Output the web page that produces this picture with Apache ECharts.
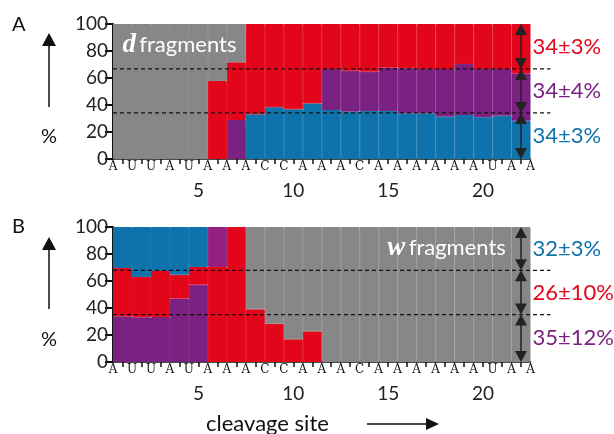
<!DOCTYPE html>
<html><head><meta charset="utf-8">
<script src="https://cdn.jsdelivr.net/npm/echarts@6/dist/echarts.min.js"></script>
<style>html,body{margin:0;padding:0;background:#fff}#c{width:614px;height:434px}</style>
</head><body><div id="c"></div>
<script>
// ---------- data ----------
const sites = ['1','2','3','4','5','6','7','8','9','10','11','12','13','14','15','16','17','18','19','20','21','22'];
const nucleotides = ['A','U','U','A','U','A','A','A','C','C','A','A','A','C','A','A','A','A','A','A','U','A','A'];

// Panel A (d fragments), stacked bottom -> top: blue, purple, red, gray
const aBlue   = [0,0,0,0,0,0,0,33.1,38.3,36.8,41.2,36.3,35.1,35.6,35.6,33.8,33.8,31.4,32.6,30.9,32.1,28.4];
const aPurple = [0,0,0,0,0,0,28.9,0,0,0,0,30.4,30.3,29.1,32.1,33.4,32.9,35.3,37.8,35.8,34.6,35.0];
const aRed    = [0,0,0,0,0,57.8,42.7,66.9,61.7,63.2,58.8,33.3,34.6,35.3,32.3,32.8,33.3,33.3,29.6,33.3,33.3,36.6];
const aGray   = [100,100,100,100,100,42.2,28.4,0,0,0,0,0,0,0,0,0,0,0,0,0,0,0];
const aMeans  = [34.1, 66.7];           // dashed lines
const aLabels = ['34±3%','34±4%','34±3%']; // top, middle, bottom

// Panel B (w fragments), stacked bottom -> top: purple, red, purple(top), blue, gray
const bPurple  = [33.8,33.1,33.3,47.0,57.3,0,0,0,0,0,0,0,0,0,0,0,0,0,0,0,0,0];
const bRed     = [35.8,29.9,34.1,17.7,13.1,70.4,100,39.0,28.4,16.8,22.7,0,0,0,0,0,0,0,0,0,0,0];
const bPurple2 = [0,0,0,0,0,29.6,0,0,0,0,0,0,0,0,0,0,0,0,0,0,0,0];
const bBlue    = [30.4,37.0,32.6,35.3,29.6,0,0,0,0,0,0,0,0,0,0,0,0,0,0,0,0,0];
const bGray    = [0,0,0,0,0,0,0,61.0,71.6,83.2,77.3,100,100,100,100,100,100,100,100,100,100,100];
const bMeans   = [35.1, 67.9];
const bLabels  = ['32±3%','26±10%','35±12%'];

const yMin = 0, yMax = 100, yStep = 20;

// ---------- style ----------
const COL = {gray:'#878787', red:'#e3061b', purple:'#7a2181', purple2:'#952080', blue:'#0f73ab'};
const SANS = 'Lato';
const chart = echarts.init(document.getElementById('c'));

function catAxis(g){
  return {type:'category', gridIndex:g, data:sites, boundaryGap:true,
    axisLine:{show:true, lineStyle:{color:'#111', width:1.5}},
    axisTick:{show:true, alignWithLabel:true, interval:0, length:5, lineStyle:{color:'#111', width:1.5}},
    axisLabel:{interval:(i)=> (i+1)%5===0, margin:22, fontSize:19, fontFamily:SANS, color:'#222'}};
}
function letterAxis(g){
  return {type:'value', gridIndex:g, min:0, max:22, interval:1, position:'bottom',
    axisLine:{show:false}, axisTick:{show:false}, splitLine:{show:false},
    axisLabel:{margin:2, fontSize:12, fontFamily:'DejaVu Serif', color:'#111',
      formatter:(v)=>nucleotides[Math.round(v)] || ''}};
}
function yAx(g){
  return {type:'value', gridIndex:g, min:yMin, max:yMax, interval:yStep,
    axisLine:{show:true, lineStyle:{color:'#111', width:2}},
    axisTick:{show:true, length:8, lineStyle:{color:'#111', width:2}},
    splitLine:{show:false},
    axisLabel:{margin:5, fontSize:19, fontFamily:SANS, color:'#222'}};
}
function bar(name, data, color, xi, yi, stack){
  return {type:'bar', name, data: data.map(v => v > 0 ? v : null), stack, xAxisIndex:xi, yAxisIndex:yi,
    barCategoryGap:'0%', barGap:'0%', animation:false, silent:true,
    itemStyle:{color, borderColor:color, borderWidth:1}};
}

chart.setOption({
  animation:false,
  grid:[
    {left:113, right:83.5, top:24, height:135, containLabel:false},
    {left:113, right:83.5, top:227, height:135, containLabel:false}
  ],
  xAxis:[catAxis(0), letterAxis(0), catAxis(1), letterAxis(1)],
  yAxis:[yAx(0), yAx(1)],
  series:[
    bar('A blue', aBlue, COL.blue, 0, 0, 'a'),
    bar('A purple', aPurple, COL.purple, 0, 0, 'a'),
    bar('A red', aRed, COL.red, 0, 0, 'a'),
    bar('A gray', aGray, COL.gray, 0, 0, 'a'),
    bar('B purple', bPurple, COL.purple, 2, 1, 'b'),
    bar('B red', bRed, COL.red, 2, 1, 'b'),
    bar('B purple top', bPurple2, COL.purple2, 2, 1, 'b'),
    bar('B blue', bBlue, COL.blue, 2, 1, 'b'),
    bar('B gray', bGray, COL.gray, 2, 1, 'b')
  ]
});

// ---------- annotations through the axes' scales ----------
function px(g, x, y){ return chart.convertToPixel({xAxisIndex:g*2+1, yAxisIndex:g}, [x, y]); }
const gfx = [];
function dashed(g, y){
  const p0 = px(g, 0, y), p1 = px(g, 23.05, y);
  gfx.push({type:'line', z:50, shape:{x1:p0[0], y1:p0[1], x2:p1[0], y2:p1[1]},
    style:{stroke:'#111', lineWidth:1.2, lineDash:[4,3]}});
}
function dblArrow(g, lo, hi){
  const t = px(g, 21.5, hi), b = px(g, 21.5, lo);
  const x = t[0], w = 6, h = 11;
  gfx.push({type:'line', z:51, shape:{x1:x, y1:t[1]+h-1, x2:x, y2:b[1]-h+1}, style:{stroke:'#222', lineWidth:1.5}});
  gfx.push({type:'polygon', z:51, shape:{points:[[x,t[1]],[x-w,t[1]+h],[x+w,t[1]+h]]}, style:{fill:'#222'}});
  gfx.push({type:'polygon', z:51, shape:{points:[[x,b[1]],[x-w,b[1]-h],[x+w,b[1]-h]]}, style:{fill:'#222'}});
}
function sideLabel(g, lo, hi, text, color){
  const p = px(g, 22.1, (lo+hi)/2);
  gfx.push({type:'text', z:52, x:p[0], y:p[1], style:{text, fill:color, font:'22px '+SANS, textAlign:'left', textVerticalAlign:'middle'}});
}
function panel(g, means, labels, colors){
  const bounds = [yMin, means[0], means[1], yMax];
  means.forEach(m=>dashed(g, m));
  dblArrow(g, bounds[2], bounds[3]);
  dblArrow(g, bounds[1], bounds[2]);
  dblArrow(g, bounds[0], bounds[1]);
  sideLabel(g, bounds[2], bounds[3], labels[0], colors[0]);
  sideLabel(g, bounds[1], bounds[2], labels[1], colors[1]);
  sideLabel(g, bounds[0], bounds[1], labels[2], colors[2]);
}
panel(0, aMeans, aLabels, [COL.red, COL.purple, COL.blue]);
panel(1, bMeans, bLabels, [COL.blue, COL.red, COL.purple]);

// fragment titles
const ta = px(0, 0.5, 84.4);
gfx.push({type:'text', z:52, x:ta[0], y:ta[1], style:{
  text:'{d|d} {f|fragments}', textAlign:'left', textVerticalAlign:'middle',
  rich:{d:{fontFamily:'Liberation Serif', fontWeight:'bold', fontStyle:'italic', fontSize:27, fill:'#fff'},
        f:{fontFamily:SANS, fontSize:22, fill:'#fff'}}}});
const tb = px(1, 20.7, 84.7);
gfx.push({type:'text', z:52, x:tb[0], y:tb[1], style:{
  text:'{d|w} {f|fragments}', textAlign:'right', textVerticalAlign:'middle',
  rich:{d:{fontFamily:'Liberation Serif', fontWeight:'bold', fontStyle:'italic', fontSize:27, fill:'#fff'},
        f:{fontFamily:SANS, fontSize:22, fill:'#fff'}}}});

// panel letters, left arrows and %
function leftDeco(letter, yTop, arrowTop, arrowBot, pctY){
  gfx.push({type:'text', x:12, y:yTop, style:{text:letter, font:'20px '+SANS, fill:'#111', textVerticalAlign:'middle'}});
  gfx.push({type:'line', shape:{x1:49, y1:arrowTop+10, x2:49, y2:arrowBot}, style:{stroke:'#111', lineWidth:1.5}});
  gfx.push({type:'polygon', shape:{points:[[49,arrowTop],[42,arrowTop+13],[56,arrowTop+13]]}, style:{fill:'#111'}});
  gfx.push({type:'text', x:49, y:pctY, style:{text:'%', font:'20px '+SANS, fill:'#111', textAlign:'center', textVerticalAlign:'middle'}});
}
leftDeco('A', 25, 33, 107, 137);
leftDeco('B', 227, 237, 309, 340);

// x axis title
gfx.push({type:'text', x:206, y:424, style:{text:'cleavage site', font:'22px '+SANS, fill:'#111', textVerticalAlign:'middle'}});
gfx.push({type:'line', shape:{x1:367, y1:424, x2:428, y2:424}, style:{stroke:'#111', lineWidth:1.5}});
gfx.push({type:'polygon', shape:{points:[[439,424],[426,418],[426,430]]}, style:{fill:'#111'}});

chart.setOption({graphic:{elements:gfx}});
</script>
</body></html>
